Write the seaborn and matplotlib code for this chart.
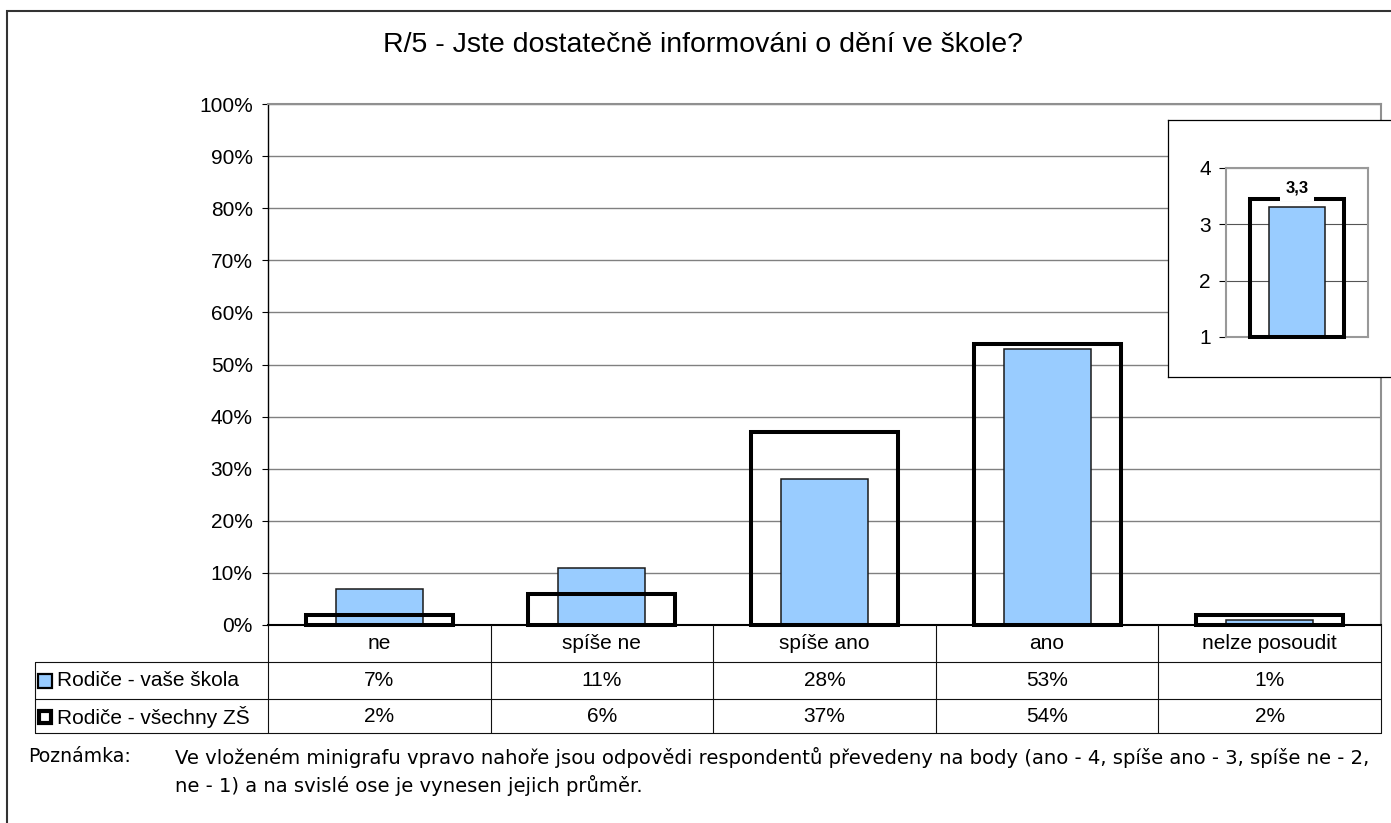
import matplotlib
matplotlib.use('Agg')
import matplotlib.pyplot as plt
import matplotlib.transforms as mtransforms
from matplotlib.patches import Rectangle
from matplotlib.lines import Line2D
import seaborn as sns
import pandas as pd

# data
categories = ['ne', 'spíše ne', 'spíše ano', 'ano', 'nelze posoudit']
skola = [7, 11, 28, 53, 1]
vsechny = [2, 6, 37, 54, 2]
series_names = ['Rodiče - vaše škola', 'Rodiče - všechny ZŠ']
yticks = [0, 10, 20, 30, 40, 50, 60, 70, 80, 90, 100]

# minigraf (average points)
mini_skola = [3.3]
mini_vsechny = [3.45]
mini_label = '3,3'
mini_ticks = [1, 2, 3, 4]

title = 'R/5 - Jste dostatečně informováni o dění ve škole?'
note_head = 'Poznámka:'
note_lines = [
    'Ve vloženém minigrafu vpravo nahoře jsou odpovědi respondentů převedeny na body (ano - 4, spíše ano - 3, spíše ne - 2,',
    'ne - 1) a na svislé ose je vynesen jejich průměr.',
]

BLUE = '#99CCFF'
W, H = 1391, 823

sns.set_theme(style='white')
plt.rcParams['font.family'] = ['Liberation Sans', 'DejaVu Sans']
plt.rcParams['text.color'] = 'black'


def fx(px):
    return px / W


def fy(py):
    return 1 - py / H


fig = plt.figure(figsize=(W / 100, H / 100), dpi=100)
fig.patch.set_facecolor('white')

# main plot area
ax = fig.add_axes([fx(268), fy(625), fx(1381 - 268), (625 - 104) / H])
df = pd.DataFrame({'kat': categories, 'skola': skola, 'vsechny': vsechny})
sns.barplot(data=df, x='kat', y='skola', color=BLUE, saturation=1, width=0.39,
            edgecolor='#1a1a1a', linewidth=1.1, ax=ax, zorder=3)
sns.barplot(data=df, x='kat', y='vsechny', fill=False, color='black', width=0.66,
            linewidth=2.9, ax=ax, zorder=4)
for p in ax.patches:
    p.set_clip_on(False)

ax.set_xlim(-0.5, len(categories) - 0.5)
ax.set_ylim(0, 100)
ax.set_yticks(yticks)
ax.set_yticklabels([f'{t}%' for t in yticks], fontsize=15)
ax.tick_params(axis='y', left=True, direction='out', length=4.5, width=0.8,
               color='black', pad=6.5, labelcolor='black')
ax.tick_params(axis='x', bottom=False, labelbottom=False)
ax.set_xlabel('')
ax.set_ylabel('')
ax.yaxis.grid(True, color='#808080', linewidth=1)
ax.set_axisbelow(True)
for side in ['top', 'right']:
    ax.spines[side].set_color('#909090')
    ax.spines[side].set_linewidth(1.5)
ax.spines['left'].set_color('black')
ax.spines['left'].set_linewidth(1)
ax.spines['bottom'].set_color('black')
ax.spines['bottom'].set_linewidth(1.5)

# data table under the plot
tr = mtransforms.blended_transform_factory(ax.transData, fig.transFigure)
rows = [625, 662, 699, 733]
line_kw = dict(color='#111111', linewidth=0.8)
for i in range(len(categories) + 1):
    fig.add_artist(Line2D([i - 0.5, i - 0.5], [fy(rows[0]), fy(rows[-1])], transform=tr, **line_kw))
for r in rows[1:]:
    fig.add_artist(Line2D([fx(35), fx(1381)], [fy(r), fy(r)], transform=fig.transFigure, **line_kw))
fig.add_artist(Line2D([fx(35), fx(35)], [fy(rows[1]), fy(rows[-1])], transform=fig.transFigure, **line_kw))

for i, cat in enumerate(categories):
    fig.text(0, 0, cat, transform=tr, fontsize=15, ha='center', va='center').set_position((i, fy(643.5)))
    fig.text(0, 0, f'{skola[i]}%', transform=tr, fontsize=15, ha='center', va='center').set_position((i, fy(680.5)))
    fig.text(0, 0, f'{vsechny[i]}%', transform=tr, fontsize=15, ha='center', va='center').set_position((i, fy(716.5)))

# legend keys in the table
fig.add_artist(Rectangle((fx(38), fy(688)), 14 / W, 14 / H, transform=fig.transFigure,
                         facecolor=BLUE, edgecolor='black', linewidth=1.6))
fig.add_artist(Rectangle((fx(39), fy(723)), 12 / W, 12 / H, transform=fig.transFigure,
                         facecolor='white', edgecolor='black', linewidth=3))
fig.text(fx(57), fy(680.5), series_names[0], fontsize=15, va='center')
fig.text(fx(57), fy(716.5), series_names[1], fontsize=15, va='center')

# minigraf box
ax_box = fig.add_axes([fx(1168), fy(377), fx(1400 - 1168), (377 - 120) / H])
ax_box.set_xticks([])
ax_box.set_yticks([])
ax_box.set_facecolor('white')
for s in ax_box.spines.values():
    s.set_color('black')
    s.set_linewidth(0.9)

ax_in = fig.add_axes([fx(1226), fy(337), fx(142), 169 / H])
dfm = pd.DataFrame({'k': ['průměr'], 'skola': mini_skola, 'vsechny': mini_vsechny})
sns.barplot(data=dfm, x='k', y='skola', color=BLUE, saturation=1, width=0.39,
            edgecolor='#1a1a1a', linewidth=1.1, ax=ax_in, zorder=3)
sns.barplot(data=dfm, x='k', y='vsechny', fill=False, color='black', width=0.66,
            linewidth=2.9, ax=ax_in, zorder=4)
ax_in.set_ylim(mini_ticks[0], mini_ticks[-1])
ax_in.set_xlim(-0.5, 0.5)
# bars start at the bottom of the value axis (1), like in the original
for p in ax_in.patches:
    top = p.get_y() + p.get_height()
    p.set_y(mini_ticks[0])
    p.set_height(top - mini_ticks[0])
    p.set_clip_on(False)
ax_in.set_yticks(mini_ticks)
ax_in.set_yticklabels([str(t) for t in mini_ticks], fontsize=15)
ax_in.tick_params(axis='y', left=True, direction='out', length=5, width=0.8,
                  color='black', pad=6, labelcolor='black')
ax_in.tick_params(axis='x', bottom=False, labelbottom=False)
ax_in.set_xlabel('')
ax_in.set_ylabel('')
ax_in.yaxis.grid(True, color='#555555', linewidth=0.8)
ax_in.set_axisbelow(True)
for s in ax_in.spines.values():
    s.set_color('#999999')
    s.set_linewidth(1.5)
ax_in.text(0, 3.64, mini_label, ha='center', va='center', fontsize=12, fontweight='bold',
           bbox=dict(facecolor='white', edgecolor='none', pad=3.8), zorder=10)

# title and note
fig.text(fx(703), fy(45), title, ha='center', va='center', fontsize=20.5)
fig.text(fx(28), fy(757), note_head, va='center', fontsize=13.6, family='DejaVu Sans')
for k, line in enumerate(note_lines):
    fig.text(fx(175), fy(757 + 28 * k), line, va='center', fontsize=14.1, family='DejaVu Sans')

# outer frame
fig.add_artist(Rectangle((fx(7), fy(900)), fx(1500), (900 - 11) / H, transform=fig.transFigure,
                         fill=False, edgecolor='#333333', linewidth=1.5))

fig.savefig('out.png', dpi=100)
